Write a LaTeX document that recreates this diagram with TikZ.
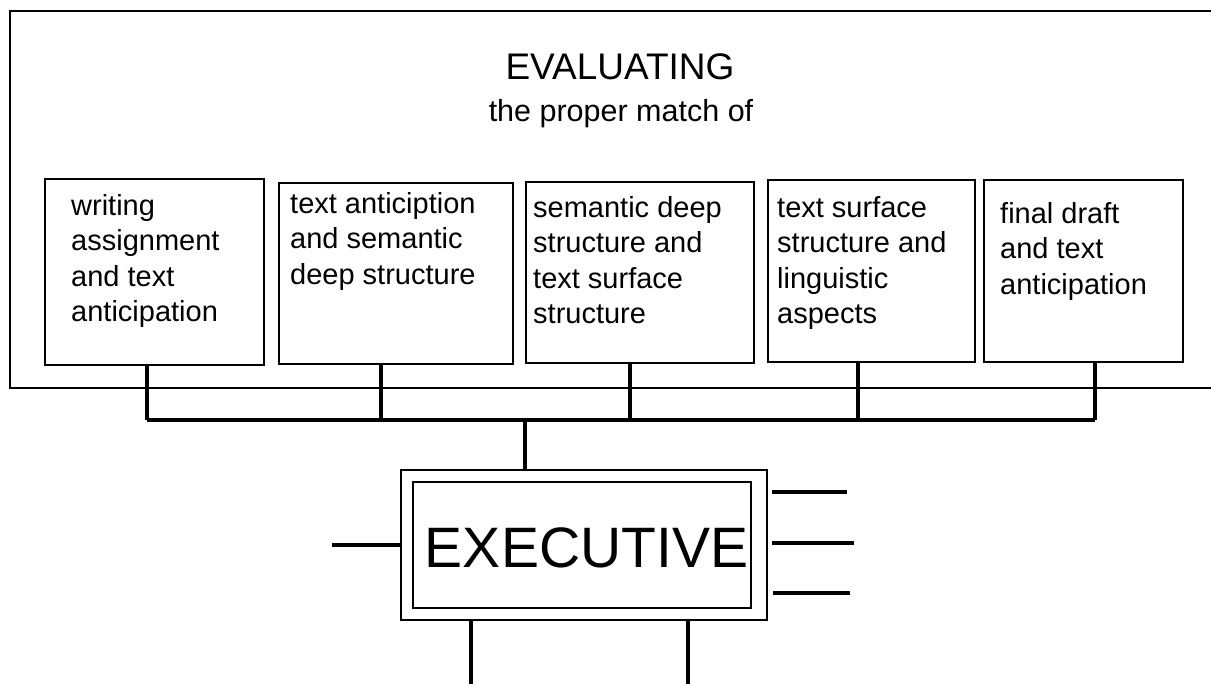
\documentclass[tikz,border=0pt]{standalone}
\usepackage{fontspec}
\setmainfont{Liberation Sans}
\begin{document}
\begin{tikzpicture}[x=1pt,y=-1pt,
  frame/.style={line width=2pt},
  box/.style={draw,line width=2pt,inner sep=0pt,rectangle},
  btext/.style={anchor=north west,inner sep=0pt,align=left,font=\fontsize{29}{35.5}\selectfont},
  stub/.style={line width=4pt},
  bus/.style={line width=3.2pt},
  wire/.style={line width=3.6pt}]
\useasboundingbox (0,0) rectangle (1211,684);
% outer frame
\coordinate (ftr) at (1211,11);
\coordinate (ftl) at (10,11);
\coordinate (fbl) at (10,388);
\coordinate (fbr) at (1211,388);
\draw[frame] (ftr) -- (ftl) -- (fbl) -- (fbr);
% title
\node[anchor=base,inner sep=0pt,font=\fontsize{37}{42}\selectfont] (t1) at (620,80) {EVALUATING};
\node[anchor=base,inner sep=0pt,font=\fontsize{30.5}{36}\selectfont] (t2) at (621,122) {the proper match of};
% boxes
\node[box,minimum width=219pt,minimum height=186pt] (b1) at (154.5,272) {};
\node[box,minimum width=234pt,minimum height=181pt] (b2) at (396,273.5) {};
\node[box,minimum width=228pt,minimum height=181pt] (b3) at (640,272.5) {};
\node[box,minimum width=207pt,minimum height=182pt] (b4) at (871.5,271) {};
\node[box,minimum width=199pt,minimum height=182pt] (b5) at (1083.5,271) {};
\node[btext] (l1) at (71,193) {\rule{0pt}{22pt}writing\\assignment\\and text\\anticipation};
\node[btext] (l2) at (290,191) {\rule{0pt}{22pt}text anticiption\\and semantic\\deep structure};
\node[btext] (l3) at (533,195) {\rule{0pt}{22pt}semantic deep\\structure and\\text surface\\structure};
\node[btext] (l4) at (777,195) {\rule{0pt}{22pt}text surface\\structure and\\linguistic\\aspects};
\node[btext] (l5) at (1000,201) {\rule{0pt}{22pt}final draft\\and text\\anticipation};
% bus
\coordinate (j1) at (147,420);
\coordinate (j2) at (381,420);
\coordinate (j3) at (630,420);
\coordinate (j4) at (858,420);
\coordinate (j5) at (1095,420);
\coordinate (jx) at (525,420);
\draw[bus] (j1) -- (j5);
\draw[stub] (j1 |- b1.south) -- (j1);
\draw[stub] (j2 |- b2.south) -- (j2);
\draw[stub] (j3 |- b3.south) -- (j3);
\draw[stub] (j4 |- b4.south) -- (j4);
\draw[stub] (j5 |- b5.south) -- (j5);
% executive
\node[box,minimum width=366pt,minimum height=150pt] (ex) at (584,545) {};
\node[box,minimum width=338pt,minimum height=126pt] (exi) at (582,545) {};
\node[anchor=base,inner sep=0pt,font=\fontsize{57}{60}\selectfont] (extxt) at (586.5,567) {EXECUTIVE};
\draw[wire] (jx) -- (jx |- ex.north);
\coordinate (lw) at (332,545);
\draw[wire] (lw) -- (lw -| ex.west);
\coordinate (r1a) at (772,492); \coordinate (r1b) at (847,492);
\coordinate (r2a) at (772,543); \coordinate (r2b) at (854,543);
\coordinate (r3a) at (773,593); \coordinate (r3b) at (850,593);
\draw[wire] (r1a) -- (r1b);
\draw[wire] (r2a) -- (r2b);
\draw[wire] (r3a) -- (r3b);
\coordinate (d1) at (471,684);
\coordinate (d2) at (688,684);
\draw[wire] (d1 |- ex.south) -- (d1);
\draw[wire] (d2 |- ex.south) -- (d2);
\end{tikzpicture}
\end{document}
